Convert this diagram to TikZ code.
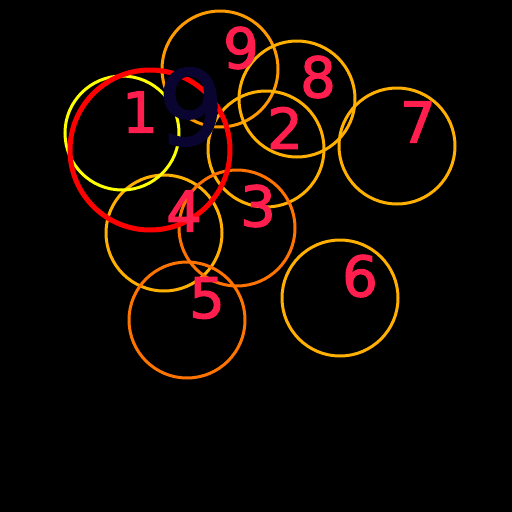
\documentclass[tikz,border=0pt]{standalone}
\usepackage{fontspec}
\setmainfont{DejaVu Sans}
\newfontfamily\digfont[FakeBold=2.2]{DejaVu Sans}
\newfontfamily\bigdigfont[FakeBold=1.5]{DejaVu Sans}
\definecolor{amber}{HTML}{FFB000}
\definecolor{orngA}{HTML}{FF9A00}
\definecolor{orngB}{HTML}{FF7400}
\definecolor{yel}{HTML}{FFFF00}
\definecolor{rd}{HTML}{FF0000}
\definecolor{digit}{HTML}{FF1E4E}
\definecolor{navy}{HTML}{0A0530}
\tikzset{
  ring/.style={circle, draw=#1, line width=3pt, inner sep=0pt, minimum size=116pt},
  numlabel/.style={text=digit, font=\digfont\fontsize{56}{56}\selectfont, inner sep=0pt},
}
\begin{document}
\begin{tikzpicture}[x=1pt,y=-1pt]
\fill[black] (0,0) rectangle (512,512);
\useasboundingbox (0,0) rectangle (512,512);
% rings
\node[ring=orngA] (c9) at (220,69) {};
\node[ring=amber] (c8) at (297,99) {};
\node[ring=amber] (c2) at (266,149) {};
\node[ring=amber] (c7) at (397,146) {};
\node[ring=amber] (c6) at (340,298) {};
\node[ring=amber] (c4) at (164,233) {};
\node[ring=orngB] (c3) at (237,228) {};
\node[ring=orngB] (c5) at (187,320) {};
\node[ring=yel, minimum size=114pt] (c1y) at (122,133) {};
\node[circle, draw=rd, line width=5pt, inner sep=0pt, minimum size=160pt] (c1r) at (150,150) {};
% labels
\node[numlabel] (n1) at (140,112) {1};
\node[numlabel] (n9) at (241,48) {9};
\node[numlabel] (n8) at (318,77) {8};
\node[numlabel] (n2) at (285,128) {2};
\node[numlabel] (n7) at (418,122) {7};
\node[numlabel] (n6) at (360,276) {6};
\node[numlabel] (n4) at (184,211) {4};
\node[numlabel] (n3) at (258,206) {3};
\node[numlabel] (n5) at (207,298) {5};
\node[text=navy, font=\bigdigfont\fontsize{104}{104}\selectfont, inner sep=0pt] (nn) at (191,107) {9};
\end{tikzpicture}
\end{document}
